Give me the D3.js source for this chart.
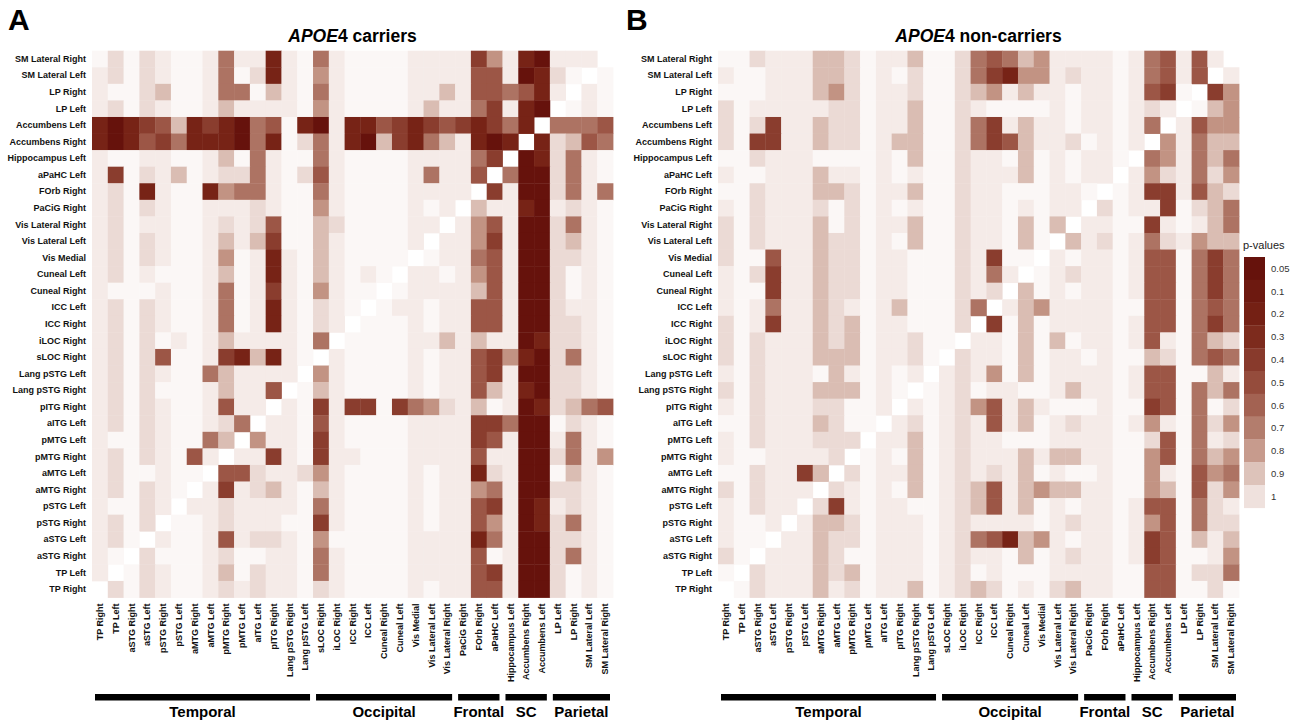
<!DOCTYPE html>
<html>
<head>
<meta charset="utf-8">
<script src="https://cdn.jsdelivr.net/npm/d3@7"></script>
<style>
  body { margin: 0; background: #fff; }
  svg { font-family: "Liberation Sans", Arial, sans-serif; }
  .tick text { font-weight: bold; font-size: 9px; fill: #111; }
</style>
</head>
<body>
<svg id="chart" width="1295" height="724"></svg>
<script>
// brain regions, column order (left to right); rows use the reverse order
const regions = [
    "TP Right", "TP Left", "aSTG Right", "aSTG Left", "pSTG Right", "pSTG Left",
    "aMTG Right", "aMTG Left", "pMTG Right", "pMTG Left", "aITG Left", "pITG Right",
    "Lang pSTG Right", "Lang pSTG Left", "sLOC Right", "iLOC Right", "ICC Right", "ICC Left",
    "Cuneal Right", "Cuneal Left", "Vis Medial", "Vis Lateral Left", "Vis Lateral Right",
    "PaCiG Right", "FOrb Right", "aPaHC Left", "Hippocampus Left", "Accumbens Right",
    "Accumbens Left", "LP Left", "LP Right", "SM Lateral Left", "SM Lateral Right"
];
const rowRegions = regions.slice().reverse();

// lobe groups: [label, first column, last column]
const groups = [["Temporal", 0, 13], ["Occipital", 14, 22], ["Frontal", 23, 25], ["SC", 26, 28], ["Parietal", 29, 32]];

// shade level per cell (0 = p near 1, 9 = p near 0.05, x = diagonal / empty), one string per row from the top
const carriers = [
    "020210015118105" + "10000111174189111x",
    "120210015028104" + "1000011116619820x0",
    "100230015503105" + "100001131665681x10",
    "120210013111104" + "10000131157189x010",
    "898763878956089" + "1886787678758x5556",
    "898675888958025" + "189378531898x82365",
    "100110013051005" + "10000111157x982510",
    "170213012251026" + "1000015116x5992510",
    "120810084551005" + "100001111x71992515",
    "120210011121004" + "10000101x311891210",
    "120110012126003" + "2000011x1461992510",
    "120210013137003" + "100001x11471992310",
    "120210014018103" + "10000x011561992210",
    "120100013018103" + "1010x1101461992010",
    "100010015017104" + "100x01111361992010",
    "120210015018102" + "10x011011661992110",
    "120210015018102" + "1x0001011661992210",
    "120201013111105" + "x00001131311982210",
    "12026001783810x" + "100001011674892510",
    "1202100531111x4" + "100001011671992210",
    "120200013116x03" + "100001011631892210",
    "12021001611x107" + "177075421301982356",
    "1202100125x1106" + "100001111775990210",
    "100210053x41107" + "100001111761991510",
    "12021061x117107" + "110001111611992514",
    "1200100x6621124" + "100001011821990310",
    "120210x17123103" + "100001011451992210",
    "10021x112111105" + "100001011671981210",
    "1202x0012111007" + "100001011641982510",
    "120x10016122104" + "000001111851992210",
    "10x200012001105" + "100001111601992510",
    "1x0210013021105" + "100001111671992010",
    "x20210012121102" + "100001011661992010"
];

const nonCarriers = [
    "002111332011300" + "25653411110156161x",
    "100111332010200" + "2578441211015616x1",
    "000111342011200" + "234131101101670x74",
    "201111122011300" + "21000010110121x034",
    "202711322011300" + "2571311011015x1644",
    "207711322013300" + "257631120101x41533",
    "002111000010300" + "21103010110x541535",
    "100111311010100" + "2111301011x1421524",
    "002111332011300" + "211000110x01771632",
    "102111202010100" + "21101011x201170235",
    "202111302011300" + "2110303x1100710135",
    "202111322010300" + "211030x31201521433",
    "200611322011000" + "21700x101101660575",
    "102711322011000" + "2151x0121101660575",
    "100711322011000" + "212x30101101660575",
    "101511321013000" + "25x134111100660565",
    "201711323011000" + "2x7030111101660575",
    "202111323011200" + "x11030301101610532",
    "20211133301120x" + "211030110100320565",
    "1021110310101x1" + "214030111101660031",
    "202111333010x01" + "201100131101660535",
    "10211122001x101" + "246131000100760502",
    "0021113200x1201" + "216130121101410524",
    "102111222x11301" + "211000111100260512",
    "10011112x010301" + "211131331100460534",
    "0021173x2011301" + "212130100100410645",
    "202111x21010301" + "236134331100430624",
    "10211x271011001" + "236130101101660521",
    "1001x1332011101" + "211110121101460522",
    "100x11322011101" + "256834101101760313",
    "20x111320011101" + "211030121101760014",
    "0x2111323011101" + "201000111100660225",
    "x02111312011301" + "232010231100660020"
];

// colour legend
const legendLabels = ["0.05", "0.1", "0.2", "0.3", "0.4", "0.5", "0.6", "0.7", "0.8", "0.9", "1"];
const legendShades = [9, 8.6, 8.2, 7.7, 7.1, 6.4, 5.6, 4.7, 3.8, 2.8, 1.6];

const shadeColors = ["#fbf7f6", "#f5ebe8", "#ebdad5", "#dabdb3", "#c29383", "#ad7363", "#9c5646", "#8a3d2e", "#772316", "#66120c"];
const color = d3.scaleLinear().domain(d3.range(10)).range(shadeColors);

const svg = d3.select("#chart");
const yScale = d3.scaleBand().domain(rowRegions).range([50.7, 597.5]);


function drawPanel(matrix, x0, letter, letterX, titleRest) {
    const xScale = d3.scaleBand().domain(regions).range([x0, x0 + 521]);
    const g = svg.append("g");

    // cells
    const cells = [];
    matrix.forEach((row, i) => {
        row.split("").forEach((ch, j) => {
            if (ch !== "x") cells.push({row: rowRegions[i], col: regions[j], shade: +ch});
        });
    });
    g.selectAll(".cell")
        .data(cells)
        .enter()
        .append("rect")
        .attr("class", "cell")
        .attr("x", d => xScale(d.col))
        .attr("y", d => yScale(d.row))
        .attr("width", xScale.bandwidth() + 0.4)
        .attr("height", yScale.bandwidth() + 0.4)
        .attr("fill", d => color(d.shade));

    // axes
    g.append("g")
        .attr("transform", "translate(" + x0 + ",0)")
        .call(d3.axisLeft(yScale).tickSize(0).tickPadding(6))
        .call(a => a.select(".domain").remove());

    g.append("g")
        .attr("transform", "translate(0,597.5)")
        .call(d3.axisBottom(xScale).tickSize(0).tickPadding(6))
        .call(a => a.select(".domain").remove())
        .selectAll("text")
        .attr("text-anchor", "end")
        .attr("transform", "rotate(-90)")
        .attr("x", -6)
        .attr("y", 0)
        .attr("dy", "0.35em");

    // group bars and labels
    groups.forEach(([name, first, last]) => {
        const left = xScale(regions[first]) + 3;
        const right = xScale(regions[last]) + xScale.bandwidth() - 3;
        g.append("rect")
            .attr("x", left)
            .attr("y", 694)
            .attr("width", right - left)
            .attr("height", 6.5)
            .attr("fill", "#000");
        g.append("text")
            .attr("x", (left + right) / 2)
            .attr("y", 717)
            .attr("text-anchor", "middle")
            .attr("font-weight", "bold")
            .attr("font-size", 15)
            .text(name);
    });

    // title
    const title = g.append("text")
        .attr("x", x0 + 521 / 2)
        .attr("y", 42)
        .attr("text-anchor", "middle")
        .attr("font-weight", "bold")
        .attr("font-size", 17.5);
    title.append("tspan").attr("font-style", "italic").text("APOE");
    title.append("tspan").text(titleRest);

    // panel letter
    svg.append("text")
        .attr("x", letterX)
        .attr("y", 30)
        .attr("font-weight", "bold")
        .attr("font-size", 30)
        .text(letter);
}


function drawLegend() {
    const lg = svg.append("g");
    lg.append("text")
        .attr("x", 1243)
        .attr("y", 249)
        .attr("font-size", 11)
        .attr("fill", "#222")
        .text("p-values");

    const step = 22.8;
    legendLabels.forEach((label, i) => {
        lg.append("rect")
            .attr("x", 1244)
            .attr("y", 257 + i * step)
            .attr("width", 21)
            .attr("height", step + 0.3)
            .attr("fill", color(legendShades[i]));
        lg.append("text")
            .attr("x", 1271)
            .attr("y", 257 + i * step + step / 2)
            .attr("dy", "0.35em")
            .attr("font-size", 9.5)
            .attr("fill", "#333")
            .text(label);
    });
}

drawPanel(carriers, 92, "A", 8, "4 carriers");
drawPanel(nonCarriers, 718, "B", 626, "4 non-carriers");
drawLegend();
</script>
</body>
</html>
